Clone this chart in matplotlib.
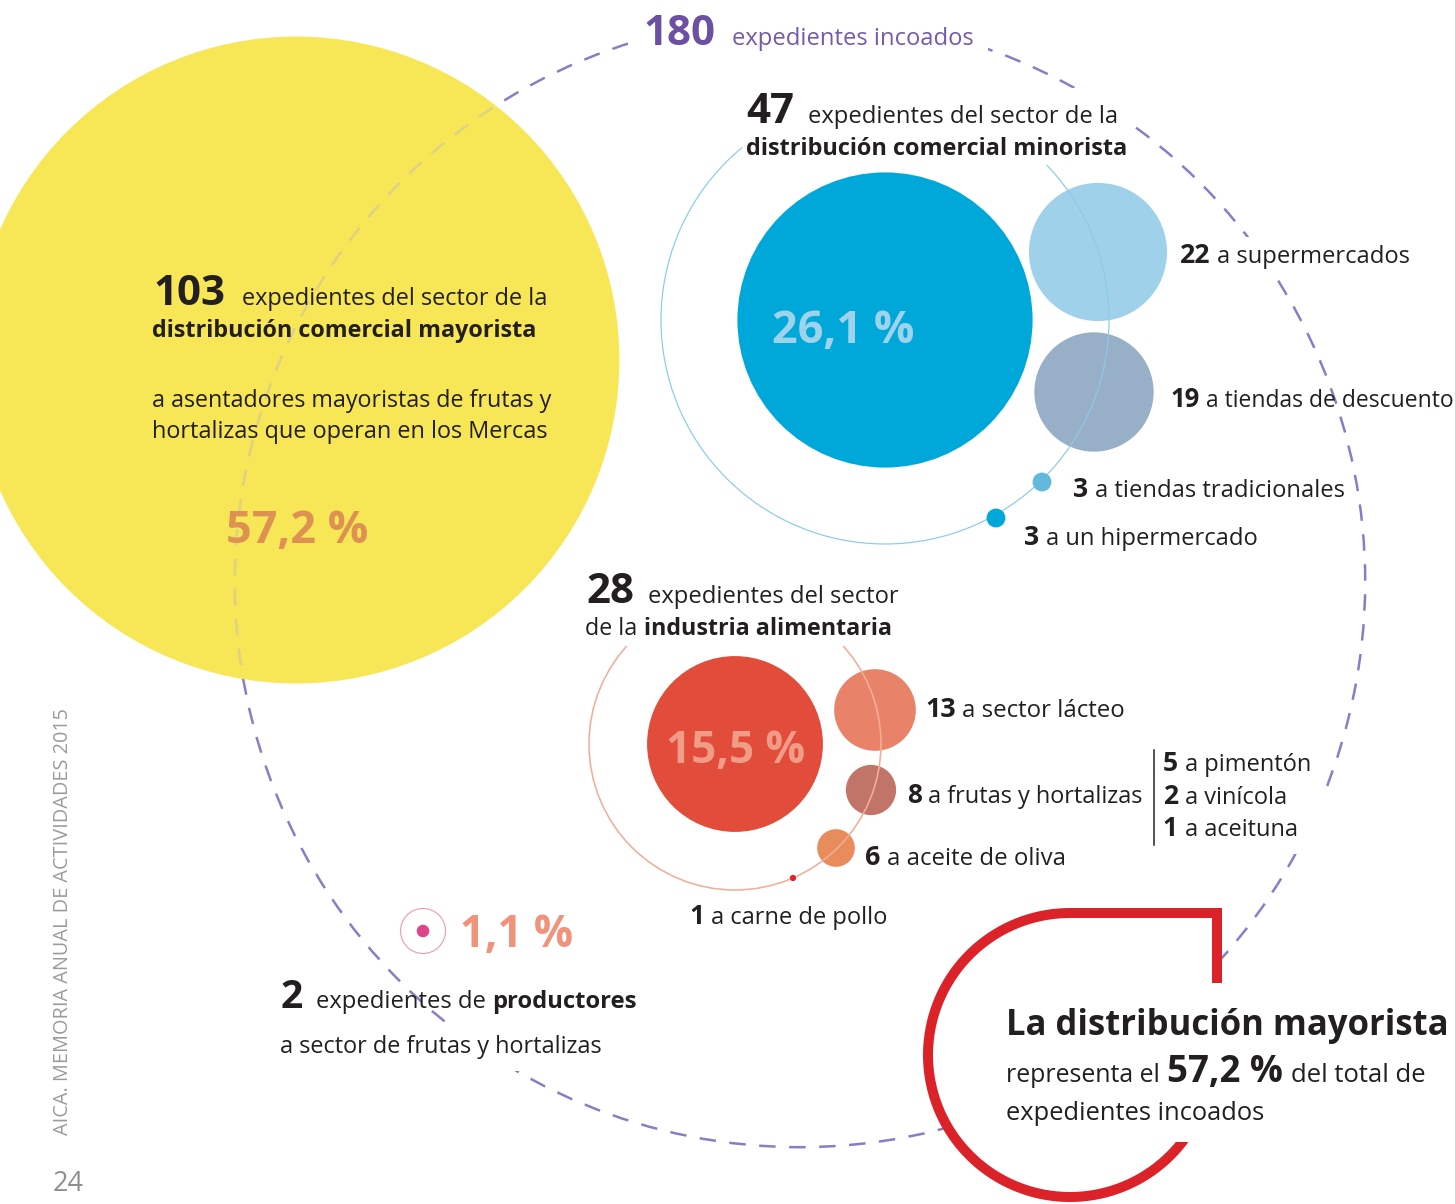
import numpy as np
import matplotlib
matplotlib.use("Agg")
import matplotlib.pyplot as plt
from matplotlib.patches import Circle, Polygon, Rectangle

W, H = 1455, 1204
PT = 0.72  # points per pixel at dpi 100

plt.rcParams['font.family'] = ['Open Sans', 'DejaVu Sans']

total_count = 180
group_counts = [103, 47, 28, 2]          # mayorista, minorista, industria, productores
group_pcts = [57.2, 26.1, 15.5, 1.1]

retail_labels = ["a supermercados", "a tiendas de descuento", "a tiendas tradicionales", "a un hipermercado"]
retail_counts = [22, 19, 3, 3]

food_labels = ["a sector lácteo", "a frutas y hortalizas", "a aceite de oliva", "a carne de pollo"]
food_counts = [13, 8, 6, 1]

fruit_labels = ["a pimentón", "a vinícola", "a aceituna"]
fruit_counts = [5, 2, 1]

# ---- layout (pixels, y down) ----
SCALE = 3.14  # circle radius in px per expediente
total_center = (800, 582)
group_centers = [(296, 360), (885, 320), (735, 744), (423, 931)]
group_colors = ['#f7e655', '#00a8d9', '#e24c3a', '#df4589']
pct_colors = ['#dd9152', '#9fd3ec', '#f09c86', '#f0937a']
pct_pos = [(226, 543, 142), (772, 343, 142), (666, 763, 139), (460, 947, 113)]

retail_centers = [(1098, 252), (1094, 392), (1042, 482), (996, 518)]
retail_colors = ['#9fd2ea', '#97b0c8', '#62b9dc', '#00a8d9']
retail_text = [(1180, 263, 230), (1170, 407, 282), (1073, 497, 270), (1024, 545, 233)]

food_centers = [(875, 710), (871, 790), (836, 848), (793, 878)]
food_colors = ['#e8836a', '#c17468', '#e98c5b', '#e8202a']
food_text = [(925, 717, 200), (907, 803, 236), (865, 865, 200), (689, 924, 197)]

fruit_text = [(1163, 771, 148), (1163, 804, 124), (1163, 836, 134)]

DARK = '#231f20'
PURPLE = '#6b50a3'
DASH = '#8a7cc6'

fig = plt.figure(figsize=(W / 100, H / 100), dpi=100)
ax = fig.add_axes([0, 0, 1, 1])
ax.set_xlim(0, W)
ax.set_ylim(H, 0)
ax.axis('off')
renderer = fig.canvas.get_renderer()


def fmt_pct(v):
    return f"{v:.1f}".replace(".", ",") + " %"


def cover(arts, pad, z=9):
    # white box behind a group of texts (hides lines passing under them)
    bbs = [a.get_window_extent(renderer) for a in arts]
    x0 = min(b.x0 for b in bbs); x1 = max(b.x1 for b in bbs)
    y0 = min(b.y0 for b in bbs); y1 = max(b.y1 for b in bbs)
    ax.add_patch(Rectangle((x0 - pad, H - y1 - pad), x1 - x0 + 2 * pad,
                           y1 - y0 + 2 * pad, fc='white', ec='none', zorder=z))


def text_run(x, y, parts, width=None, box=None, z=10):
    # parts: (text, px size, bold, color, gap before in px)
    def draw(scale):
        arts, cx = [], x
        for s, size, bold, color, gap in parts:
            cx += gap * scale
            t = ax.text(cx, y, s, fontsize=size * scale * PT,
                        fontweight="bold" if bold else "normal",
                        color=color, ha="left", va="baseline", zorder=z)
            cx += t.get_window_extent(renderer).width
            arts.append(t)
        return arts, cx - x
    arts, w = draw(1.0)
    if width:
        for a in arts:
            a.remove()
        arts, w = draw(width / w)
    if box is not None:
        cover(arts, box, z - 1)
    return arts


# ---- big dashed circle: all expedientes ----
r_total = total_count * SCALE
lw_d = 2.5 * PT
dash_style = (0, (16.5 * PT / lw_d, 13.5 * PT / lw_d))
ax.add_patch(Circle(total_center, r_total, fill=False, ec=DASH, lw=lw_d,
                    linestyle=dash_style, zorder=1))

# ---- group circles ----
yellow = Circle(group_centers[0], group_counts[0] * SCALE, fc=group_colors[0], ec='none', zorder=2)
ax.add_patch(yellow)
inner = Circle(total_center, r_total, fill=False, ec='#ddd283', lw=lw_d,
               linestyle=dash_style, zorder=3)
ax.add_patch(inner)
inner.set_clip_path(yellow)

ax.add_patch(Circle(group_centers[1], group_counts[1] * SCALE, fc=group_colors[1], ec='none', zorder=4))
ax.add_patch(Circle(group_centers[2], group_counts[2] * SCALE, fc=group_colors[2], ec='none', zorder=4))

# retail sub circles
for c, n, col in zip(retail_centers, retail_counts, retail_colors):
    ax.add_patch(Circle(c, n * SCALE, fc=col, ec='none', zorder=4 if n > 5 else 6))
ax.add_patch(Circle(group_centers[1], 224, fill=False, ec='#8ccbe8', lw=1.2 * PT, zorder=5))

# food sub circles
for c, n, col in zip(food_centers, food_counts, food_colors):
    ax.add_patch(Circle(c, n * SCALE, fc=col, ec='none', zorder=4 if n > 5 else 6))
ax.add_patch(Circle(group_centers[2], 146, fill=False, ec='#f2ae98', lw=1.6 * PT, zorder=5))

# productores
ax.add_patch(Circle(group_centers[3], group_counts[3] * SCALE, fc=group_colors[3], ec='none', zorder=6))
ax.add_patch(Circle(group_centers[3], 22.5, fill=False, ec='#eba0b8', lw=1.2 * PT, zorder=6))

# ---- red callout shape ----
rc, rr = (1070, 1055), 142
t_fill = np.radians(np.linspace(37.8, 270, 200))
fill_pts = [(rc[0] + rr * np.cos(t), rc[1] + rr * np.sin(t)) for t in t_fill]
fill_pts += [(1217, 913), (1217, 1142)]
ax.add_patch(Polygon(fill_pts, closed=True, fc='white', ec='none', zorder=7))

t_line = np.radians(np.linspace(20, 270, 300))
lx = list(rc[0] + rr * np.cos(t_line)) + [1217, 1217]
ly = list(rc[1] + rr * np.sin(t_line)) + [913, 983]
red_line, = ax.plot(lx, ly, color='#dc2229', lw=10 * PT, solid_capstyle='butt',
                    solid_joinstyle='miter', zorder=8)
clip = Polygon([(0, 0), (W, 0), (W, 990), (1100, 990), (1100, 1142), (W, 1142), (W, H), (0, H)],
               closed=True, transform=ax.transData)
red_line.set_clip_path(clip)

# ---- texts ----
t1 = text_run(643, 45, [(str(total_count), 42, True, PURPLE, 0)])
t1 += text_run(732, 45, [("expedientes incoados", 25, False, '#7559ad', 0)], width=240)
cover(t1, 14)

t2 = text_run(746, 123, [(str(group_counts[1]), 42, True, DARK, 0)])
t2 += text_run(808, 123, [("expedientes del sector de la", 25, False, DARK, 0)], width=309)
t2 += text_run(746, 155, [("distribución comercial minorista", 25, True, DARK, 0)], width=382)
cover(t2, 4)

text_run(153, 305, [(str(group_counts[0]), 42, True, DARK, 0)])
text_run(242, 305, [("expedientes del sector de la", 25, False, DARK, 0)], width=306)
text_run(152, 337, [("distribución comercial mayorista", 25, True, DARK, 0)], width=386)
text_run(152, 407, [("a asentadores mayoristas de frutas y", 25, False, DARK, 0)], width=399)
text_run(152, 438, [("hortalizas que operan en los Mercas", 25, False, DARK, 0)], width=396)

t3 = text_run(586, 603, [(str(group_counts[2]), 42, True, DARK, 0)])
t3 += text_run(648, 603, [("expedientes del sector", 25, False, DARK, 0)], width=250)
t3 += text_run(585, 635, [("de la", 25, False, DARK, 0),
                          ("industria alimentaria", 25, True, DARK, 7)], width=306)
cover(t3, 5)

for (x, y, w), v, col in zip(pct_pos, group_pcts, pct_colors):
    text_run(x, y, [(fmt_pct(v), 44, True, col, 0)], width=w)

for (x, y, w), n, lab in zip(retail_text, retail_counts, retail_labels):
    text_run(x, y, [(str(n), 28, True, DARK, 0), (lab, 25, False, DARK, 7)], width=w,
             box=6 if n == 22 else None)

for (x, y, w), n, lab in zip(food_text, food_counts, food_labels):
    text_run(x, y, [(str(n), 28, True, DARK, 0), (lab, 25, False, DARK, 7)], width=w)

t4 = []
for (x, y, w), n, lab in zip(fruit_text, fruit_counts, fruit_labels):
    t4 += text_run(x, y, [(str(n), 28, True, DARK, 0), (lab, 25, False, DARK, 7)], width=w)
cover(t4, 12)
ax.plot([1154, 1154], [750, 845], color=DARK, lw=1.5 * PT, zorder=12)

text_run(281, 1008, [(str(group_counts[3]), 39, True, DARK, 0)])
text_run(316, 1008, [("expedientes de", 25, False, DARK, 0),
                     ("productores", 25, True, DARK, 7)], width=321)
text_run(280, 1053, [("a sector de frutas y hortalizas", 25, False, DARK, 0)], width=321, box=12)

text_run(1006, 1035, [("La distribución mayorista", 37, True, DARK, 0)], width=441)
text_run(1006, 1082, [("representa el", 27, False, DARK, 0)], width=154)
text_run(1167, 1082, [(fmt_pct(group_pcts[0]), 40, True, DARK, 0)], width=116)
text_run(1291, 1082, [("del total de", 27, False, DARK, 0)], width=134)
text_run(1006, 1120, [("expedientes incoados", 27, False, DARK, 0)], width=259)

# page furniture
side = ax.text(68, 1135, "AICA. MEMORIA ANUAL DE ACTIVIDADES 2015", rotation=90,
               rotation_mode='anchor', ha='left', va='baseline', color='#9b9b9b',
               fontsize=20 * PT, zorder=10)
side.set_fontsize(20 * PT * 425 / side.get_window_extent(renderer).height)
ax.text(53, 1191, "24", color='#8f8f8f', fontsize=27 * PT, ha='left', va='baseline', zorder=10)

fig.savefig("out.png", dpi=100)
